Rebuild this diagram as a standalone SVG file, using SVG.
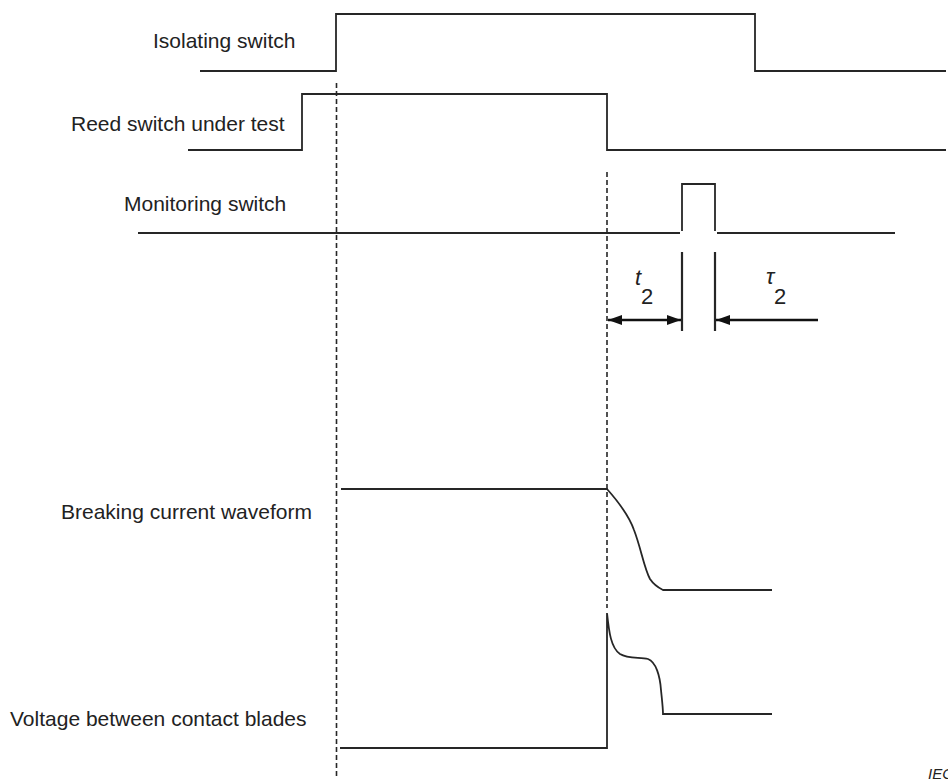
<svg xmlns="http://www.w3.org/2000/svg" width="948" height="781" viewBox="0 0 948 781">
  <defs>
    <style>
      .lbl { font-family: "Liberation Sans", Arial, sans-serif; font-size: 21px; fill: #222; }
      .sym { font-family: "Liberation Sans", Arial, sans-serif; font-size: 22px; fill: #222; }
      .it { font-style: italic; }
      .sig { fill: none; stroke: #262626; stroke-width: 1.8; stroke-linejoin: miter; }
      .dash { fill: none; stroke: #262626; stroke-width: 1.6; stroke-dasharray: 5 3; }
      .tick { fill: none; stroke: #262626; stroke-width: 2.2; }
      .dim { fill: none; stroke: #111; stroke-width: 2.6; }
    </style>
    <marker id="ah" viewBox="0 0 14 10" refX="14" refY="5" markerWidth="14" markerHeight="10" markerUnits="userSpaceOnUse" orient="auto-start-reverse">
      <path d="M0,0 L14,5 L0,10 Z" fill="#111"/>
    </marker>
  </defs>
  <rect width="948" height="781" fill="#ffffff"/>

  <!-- signal traces -->
  <g id="isolating-switch">
    <text class="lbl" x="153" y="48">Isolating switch</text>
    <polyline class="sig" points="200,71 336,71 336,14 755,14 755,71 946,71"/>
  </g>
  <g id="reed-switch">
    <text class="lbl" x="71" y="131">Reed switch under test</text>
    <polyline class="sig" points="188,150 302,150 302,94 607,94 607,150 946,150"/>
  </g>
  <g id="monitoring-switch">
    <text class="lbl" x="124" y="211">Monitoring switch</text>
    <line class="sig" x1="138" y1="233" x2="680" y2="233"/>
    <polyline class="sig" points="682,231 682,184 715,184 715,231"/>
    <line class="sig" x1="717" y1="233" x2="895" y2="233"/>
  </g>
  <g id="breaking-current">
    <text class="lbl" x="61" y="519">Breaking current waveform</text>
    <path class="sig" d="M341,489 L607,489 C615,498 628,513 634,530 C641,548 644,568 650,579 C654,585 659,588 663,590 L772,590"/>
  </g>
  <g id="contact-voltage">
    <text class="lbl" x="10" y="726">Voltage between contact blades</text>
    <path class="sig" d="M340,748 L607,748 L607,613 C609,632 611,648 620,654 C628,659 640,657 648,659 C656,662 660,676 661,690 C662,700 663,708 663,714 L772,714"/>
  </g>

  <!-- timing references and dimensions -->
  <g id="connectors">
    <line class="dash" x1="336.5" y1="83" x2="336.5" y2="779"/>
    <line class="dash" x1="607" y1="172" x2="607" y2="608"/>
    <line class="tick" x1="682" y1="252" x2="682" y2="331"/>
    <line class="tick" x1="715" y1="252" x2="715" y2="331"/>
    <line class="dim" x1="608" y1="320" x2="681" y2="320" marker-start="url(#ah)" marker-end="url(#ah)"/>
    <line class="dim" x1="818" y1="320" x2="716" y2="320" marker-end="url(#ah)"/>
  </g>

  <g id="t2-label">
    <text class="sym it" x="635" y="285" font-size="19px">t</text>
    <text class="sym" x="641" y="304">2</text>
  </g>
  <g id="tau2-label">
    <text class="sym it" x="766" y="284" font-size="19px">τ</text>
    <text class="sym" x="774" y="304">2</text>
  </g>

  <text class="it" x="928" y="779" font-family="Liberation Sans, Arial, sans-serif" font-size="15px" fill="#222">IEC</text>
</svg>
